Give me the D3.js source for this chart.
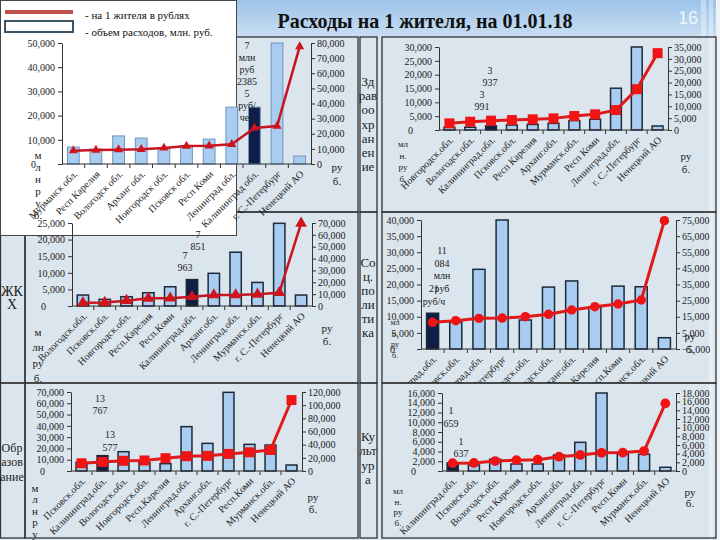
<!DOCTYPE html>
<html><head><meta charset="utf-8">
<script src="https://cdn.jsdelivr.net/npm/d3@7"></script>
<style>body{margin:0;background:#d8e4ed;} svg{display:block;} text{font-family:"Liberation Serif","Times New Roman",serif;}</style>
</head><body>
<script>
// ---------- DATA ----------
const title = "Расходы на 1 жителя, на 01.01.18";
const slideNumber = "16";
const legendLine = "- на 1 жителя в рублях";
const legendBar = "- объем расходов, млн. руб.";

// Panel 1 (общий)
const p1Categories = ["Мурманск обл.","Респ Карелия","Вологодск обл.","Арханг обл.","Новгородск обл.","Псковск обл.","Респ Коми","Ленинград обл.","Калининград обл.","г. С.-Петербург","Ненецкий АО"];
const p1Volume = [7000, 6200, 11600, 10700, 6600, 7500, 10300, 23500, 23500, 50000, 3300];
const p1PerCapita = [8800, 9200, 9500, 9700, 10600, 11900, 12000, 13000, 23855, 25100, 77600];
const p1LeftTicks = [0, 10000, 20000, 30000, 40000, 50000];
const p1RightTicks = [0, 10000, 20000, 30000, 40000, 50000, 60000, 70000, 80000];

// Panel 2 Здравоохранение
const p2Categories = ["Новгородск.обл.","Вологодск.обл.","Калининград.обл.","Псковск.обл.","Респ Карелия","Арханг.обл.","Мурманск.обл.","Респ Коми","Ленинград.обл.","г. С.-Петербург","Ненецкий АО"];
const p2Volume = [1000, 1000, 1500, 1800, 2000, 2400, 3400, 3900, 15100, 30000, 1450];
const p2PerCapita = [2800, 3500, 3937, 4200, 4500, 4900, 5900, 6600, 8400, 17200, 32400];
const p2LeftTicks = [0, 5000, 10000, 15000, 20000, 25000, 30000];
const p2RightTicks = [0, 5000, 10000, 15000, 20000, 25000, 30000, 35000];

// Panel 3 ЖКХ
const p3Categories = ["Вологодск.обл.","Псковск.обл.","Новгородск.обл.","Респ.Карелия","Респ.Коми","Калининград.обл.","Арханг.обл.","Ленинград.обл.","Мурманск.обл.","г. С.-Петербург","Ненецкий АО"];
const p3Volume = [3300, 2000, 2800, 4000, 5800, 7963, 9850, 16200, 7100, 24900, 3300];
const p3PerCapita = [2700, 2900, 4500, 6500, 6600, 7851, 9300, 9300, 9900, 11200, 69700];
const p3LeftTicks = [0, 5000, 10000, 15000, 20000, 25000];
const p3RightTicks = [0, 10000, 20000, 30000, 40000, 50000, 60000, 70000];

// Panel 4 Соц. политика
const p4Categories = ["Калининград.обл.","Псковск.обл.","Ленинград.обл.","г. С.-Петербург","Вологодск.обл.","Новгородск.обл.","Арханг.обл.","Респ.Карелия","Респ.Коми","Мурманск.обл.","Ненецкий АО"];
const p4Volume = [11084, 8300, 24700, 40000, 9000, 19200, 21100, 13000, 19500, 19300, 3500];
const p4PerCapita = [11560, 12550, 14000, 14200, 15050, 16500, 19200, 21250, 22900, 25400, 74600];
const p4LeftTicks = [0, 5000, 10000, 15000, 20000, 25000, 30000, 35000, 40000];
const p4RightTicks = [-5000, 5000, 15000, 25000, 35000, 45000, 55000, 65000, 75000];

// Panel 5 Образование
const p5Categories = ["Псковск.обл.","Калининград.обл.","Вологодск.обл.","Новгородск.обл.","Респ.Карелия","Ленинград.обл.","Арханг.обл.","г. С.-Петербург","Респ.Коми","Мурманск.обл.","Ненецкий АО"];
const p5Volume = [7700, 13577, 17100, 7500, 6500, 39300, 24500, 69700, 23600, 23000, 5300];
const p5PerCapita = [11700, 13767, 15500, 16000, 19500, 22500, 23000, 26000, 28400, 31900, 107800];
const p5LeftTicks = [0, 10000, 20000, 30000, 40000, 50000, 60000, 70000];
const p5RightTicks = [0, 20000, 40000, 60000, 80000, 100000, 120000];

// Panel 6 Культура
const p6Categories = ["Калининград.обл.","Псковск.обл.","Вологодск.обл.","Респ Карелия","Новгородск.обл.","Арханг.обл.","Ленинград.обл.","г. С.-Петербург","Респ.Коми","Мурманск.обл.","Ненецкий АО"];
const p6Volume = [1659, 1230, 2400, 1440, 1440, 3280, 5880, 16000, 3490, 3420, 760];
const p6PerCapita = [1800, 1850, 2300, 2500, 2600, 3300, 3700, 4200, 4250, 4600, 15600];
const p6LeftTicks = [0, 2000, 4000, 6000, 8000, 10000, 12000, 14000, 16000];
const p6RightTicks = [0, 2000, 4000, 6000, 8000, 10000, 12000, 14000, 16000, 18000];

const rowLabels = {
  health: ["Зд","рав","оо","хр","ан","ен","ие"],
  housing: ["ЖК","Х"],
  social: ["Со","ц.","по","ли","ти","ка"],
  education: ["Обр","азов","ание"],
  culture: ["Ку","льт","ур","а"]
};

// ---------- DRAWING ----------
const SERIF = "Liberation Serif, Times New Roman, serif";
const svg = d3.select("body").append("svg").attr("width", 720).attr("height", 540);
const defs = svg.append("defs");
const tg = defs.append("linearGradient").attr("id","titleGrad").attr("x1",0).attr("y1",0).attr("x2",0).attr("y2",1);
tg.append("stop").attr("offset","0%").attr("stop-color","#9cc3ea");
tg.append("stop").attr("offset","100%").attr("stop-color","#c9def2");
defs.append("clipPath").attr("id","clipMid").append("rect").attr("x",360).attr("y",212).attr("width",360).attr("height",171);

svg.append("rect").attr("width",720).attr("height",540).attr("fill","#dae5ee");
svg.append("rect").attr("width",720).attr("height",37).attr("fill","url(#titleGrad)");
svg.append("rect").attr("x",701).attr("y",0).attr("width",5).attr("height",37).attr("fill","#ffffff").attr("opacity",0.35);
svg.append("rect").attr("x",709).attr("y",0).attr("width",4).attr("height",540).attr("fill","#ffffff").attr("opacity",0.35);
svg.append("rect").attr("x",716).attr("y",0).attr("width",4).attr("height",540).attr("fill","#eef3f7");

svg.append("text").attr("x",425).attr("y",28).attr("text-anchor","middle")
  .style("font-family",SERIF).attr("font-weight","bold").attr("font-size",20).attr("fill","#111").text(title);
svg.append("text").attr("x",688).attr("y",24).attr("text-anchor","middle")
  .style("font-family","Liberation Sans, Arial, sans-serif").attr("font-size",18).attr("fill","#eef5fc").text(slideNumber);

// table cells
const rows = [[37,212],[212,383],[383,538]];
const cols = [[0.5,25],[25,358],[360,377],[382,716]];
rows.forEach(r => cols.forEach(c => {
  svg.append("rect").attr("x",c[0]).attr("y",r[0]).attr("width",c[1]-c[0]).attr("height",r[1]-r[0])
    .attr("fill","none").attr("stroke","#333").attr("stroke-width",1.3);
}));

// white box (panel 1 + legend)
svg.append("rect").attr("x",0.5).attr("y",0.5).attr("width",236).attr("height",235)
  .attr("fill","#ffffff").attr("stroke","#444").attr("stroke-width",1);
svg.append("line").attr("x1",5).attr("x2",73).attr("y1",12).attr("y2",12).attr("stroke","#c0504d").attr("stroke-width",4);
svg.append("rect").attr("x",5).attr("y",21).attr("width",68).attr("height",11).attr("fill","#fff").attr("stroke","#3b5566").attr("stroke-width",2);
svg.append("text").attr("x",85).attr("y",19).style("font-family",SERIF).attr("font-size",11).attr("fill","#111").text(legendLine);
svg.append("text").attr("x",85).attr("y",36).style("font-family",SERIF).attr("font-size",11).attr("fill","#111").text(legendBar);

function stack(lines, x, y0, dy, size, anchor, color) {
  const g = svg.append("g");
  lines.forEach((t,i) => g.append("text").attr("x",x).attr("y",y0+i*dy)
    .attr("text-anchor",anchor||"middle").attr("dominant-baseline","middle")
    .style("font-family",SERIF).attr("font-size",size).attr("fill",color||"#222").text(t));
  return g;
}

function drawPanel(cfg, cats, vol, per, leftTicks, rightTicks, hi) {
  const g = svg.append("g");
  if (cfg.clip) g.attr("clip-path", cfg.clip);
  const x = d3.scaleBand().domain(cats).range([cfg.x0, cfg.x1]);
  const yL = d3.scaleLinear().domain([0, d3.max(leftTicks)]).range([cfg.yb, cfg.yt]);
  const yR = d3.scaleLinear().domain(d3.extent(rightTicks)).range([cfg.yb, cfg.yt]);
  const bw = x.bandwidth();
  // bars
  g.selectAll("rect.bar").data(cats).join("rect")
    .attr("x", c => x(c) + bw*0.24).attr("width", bw*0.52)
    .attr("y", (c,i) => yL(vol[i])).attr("height", (c,i) => cfg.yb - yL(vol[i]))
    .attr("fill", (c,i) => i===hi ? "#0f1d47" : "#a9cdf1")
    .attr("stroke", cfg.barStroke).attr("stroke-width", cfg.barStrokeW);
  // left axis
  const la = g.append("g").attr("transform",`translate(${cfg.x0},0)`)
    .call(d3.axisLeft(yL).tickValues(leftTicks).tickFormat(d3.format(",")).tickSize(4).tickSizeOuter(0).tickPadding(3));
  la.selectAll("text").filter(d => d===0).attr("x",-31).attr("text-anchor","start");
  // right axis
  const ra = g.append("g").attr("transform",`translate(${cfg.x1},0)`)
    .call(d3.axisRight(yR).tickValues(rightTicks).tickFormat(d3.format(",")).tickSize(4).tickSizeOuter(0).tickPadding(2));
  [la, ra].forEach(a => {
    a.attr("font-family",null).attr("font-size",10);
    a.selectAll("text").style("font-family",SERIF).attr("fill","#222");
    a.selectAll("line,path").attr("stroke","#333");
  });
  // x baseline + boundary ticks
  g.append("line").attr("x1",cfg.x0).attr("x2",cfg.x1).attr("y1",cfg.yb).attr("y2",cfg.yb).attr("stroke","#333");
  g.selectAll("line.xt").data(cats.slice(1)).join("line")
    .attr("x1", c => x(c)).attr("x2", c => x(c)).attr("y1", cfg.yb).attr("y2", cfg.yb+4).attr("stroke","#333");
  // x labels
  g.selectAll("text.xl").data(cats).join("text")
    .attr("transform", c => `translate(${x(c)+bw/2+3},${cfg.yb+9}) rotate(-45)`)
    .attr("text-anchor","end").attr("dominant-baseline","middle")
    .style("font-family",SERIF).attr("font-size",10).attr("fill","#222").text(c => c);
  // line
  const line = d3.line().x((c) => x(c)+bw/2).y((c,i) => yR(per[i]));
  g.append("path").datum(cats).attr("d", line).attr("fill","none")
    .attr("stroke", cfg.lineColor).attr("stroke-width", cfg.lineW).attr("stroke-linejoin","round");
  const sym = d3.symbol().type(cfg.marker).size(cfg.markerSize);
  g.selectAll("path.mk").data(cats).join("path")
    .attr("transform", (c,i) => `translate(${x(c)+bw/2},${yR(per[i])})`)
    .attr("d", sym).attr("fill", cfg.markerColor);
  return {x, yL, yR, g};
}

// Panel 1
drawPanel({x0:62, x1:311, yt:43, yb:164, barStroke:"#6f94bb", barStrokeW:1, lineColor:"#c8141e", lineW:2.5,
  marker:d3.symbolTriangle, markerSize:36, markerColor:"#d0141e"},
  p1Categories, p1Volume, p1PerCapita, p1LeftTicks, p1RightTicks, 8);
stack(["м","л","н","р","у","б."], 38, 156, 12, 11);
stack(["ру","б."], 337, 168, 14, 11);
stack(["7","млн","руб","2385","5","руб/","чел"], 247, 47, 12, 10);

// Panel 2
drawPanel({x0:439, x1:668, yt:47, yb:130, barStroke:"#1c2a3a", barStrokeW:1.5, lineColor:"#e01a1a", lineW:3,
  marker:d3.symbolSquare, markerSize:100, markerColor:"#f01414"},
  p2Categories, p2Volume, p2PerCapita, p2LeftTicks, p2RightTicks, 2);
stack(rowLabels.health, 368, 83, 14.2, 13);
stack(["мл","н.","ру","б."], 403, 145, 11.5, 9);
stack(["ру","б."], 686, 157, 13, 11);
stack(["3","937"], 490, 72, 12, 10);
stack(["3","991"], 482, 96, 12, 10);

// Panel 3
drawPanel({x0:72, x1:312, yt:223, yb:306, barStroke:"#1c2a3a", barStrokeW:1.5, lineColor:"#c8141e", lineW:2.5,
  marker:d3.symbolTriangle, markerSize:60, markerColor:"#d0141e"},
  p3Categories, p3Volume, p3PerCapita, p3LeftTicks, p3RightTicks, 5);
stack(rowLabels.housing, 12, 293, 13, 14);
stack(["м","лн","ру","б."], 38, 333, 15.5, 11);
stack(["ру","б."], 327, 329, 13, 11);
stack(["7","851"], 198, 236, 12, 10);
stack(["7","963"], 185, 257, 12, 10);

// Panel 4
drawPanel({x0:421, x1:676, yt:220, yb:349, barStroke:"#1c2a3a", barStrokeW:1.5, lineColor:"#e01a1a", lineW:3,
  marker:d3.symbolCircle, markerSize:70, markerColor:"#ee1414", clip:"url(#clipMid)"},
  p4Categories, p4Volume, p4PerCapita, p4LeftTicks, p4RightTicks, 0);
stack(rowLabels.social, 368, 264, 14, 13);
stack(["мл","н.","ру","б."], 395, 323, 11, 8);
stack(["ру","б."], 690, 337, 13, 11);
stack(["11","084","млн","руб"], 442, 252, 12.5, 10);
stack(["21","руб/ч"], 434, 290, 13, 10);

// Panel 5
drawPanel({x0:71, x1:302, yt:392, yb:471, barStroke:"#1c2a3a", barStrokeW:1.5, lineColor:"#e01a1a", lineW:3,
  marker:d3.symbolSquare, markerSize:100, markerColor:"#f01414"},
  p5Categories, p5Volume, p5PerCapita, p5LeftTicks, p5RightTicks, 1);
stack(rowLabels.education, 12, 449, 14.5, 12);
stack(["м","л","н","р","у"], 35, 489, 11.5, 11);
stack(["ру","б."], 313, 498, 12, 11);
stack(["13","767"], 100, 400, 12, 10);
stack(["13","577"], 110, 436, 13, 10);

// Panel 6
drawPanel({x0:442, x1:676, yt:393, yb:471, barStroke:"#1c2a3a", barStrokeW:1.5, lineColor:"#e01a1a", lineW:3,
  marker:d3.symbolCircle, markerSize:75, markerColor:"#ee1414"},
  p6Categories, p6Volume, p6PerCapita, p6LeftTicks, p6RightTicks, 0);
stack(rowLabels.culture, 368, 438, 14.3, 13);
stack(["мл","н.","ру","б."], 398, 492, 10.5, 9);
stack(["ру","б."], 690, 493, 11, 11);
stack(["1","659"], 451, 412, 13, 10);
stack(["1","637"], 461, 443, 12, 10);
</script>
</body></html>
